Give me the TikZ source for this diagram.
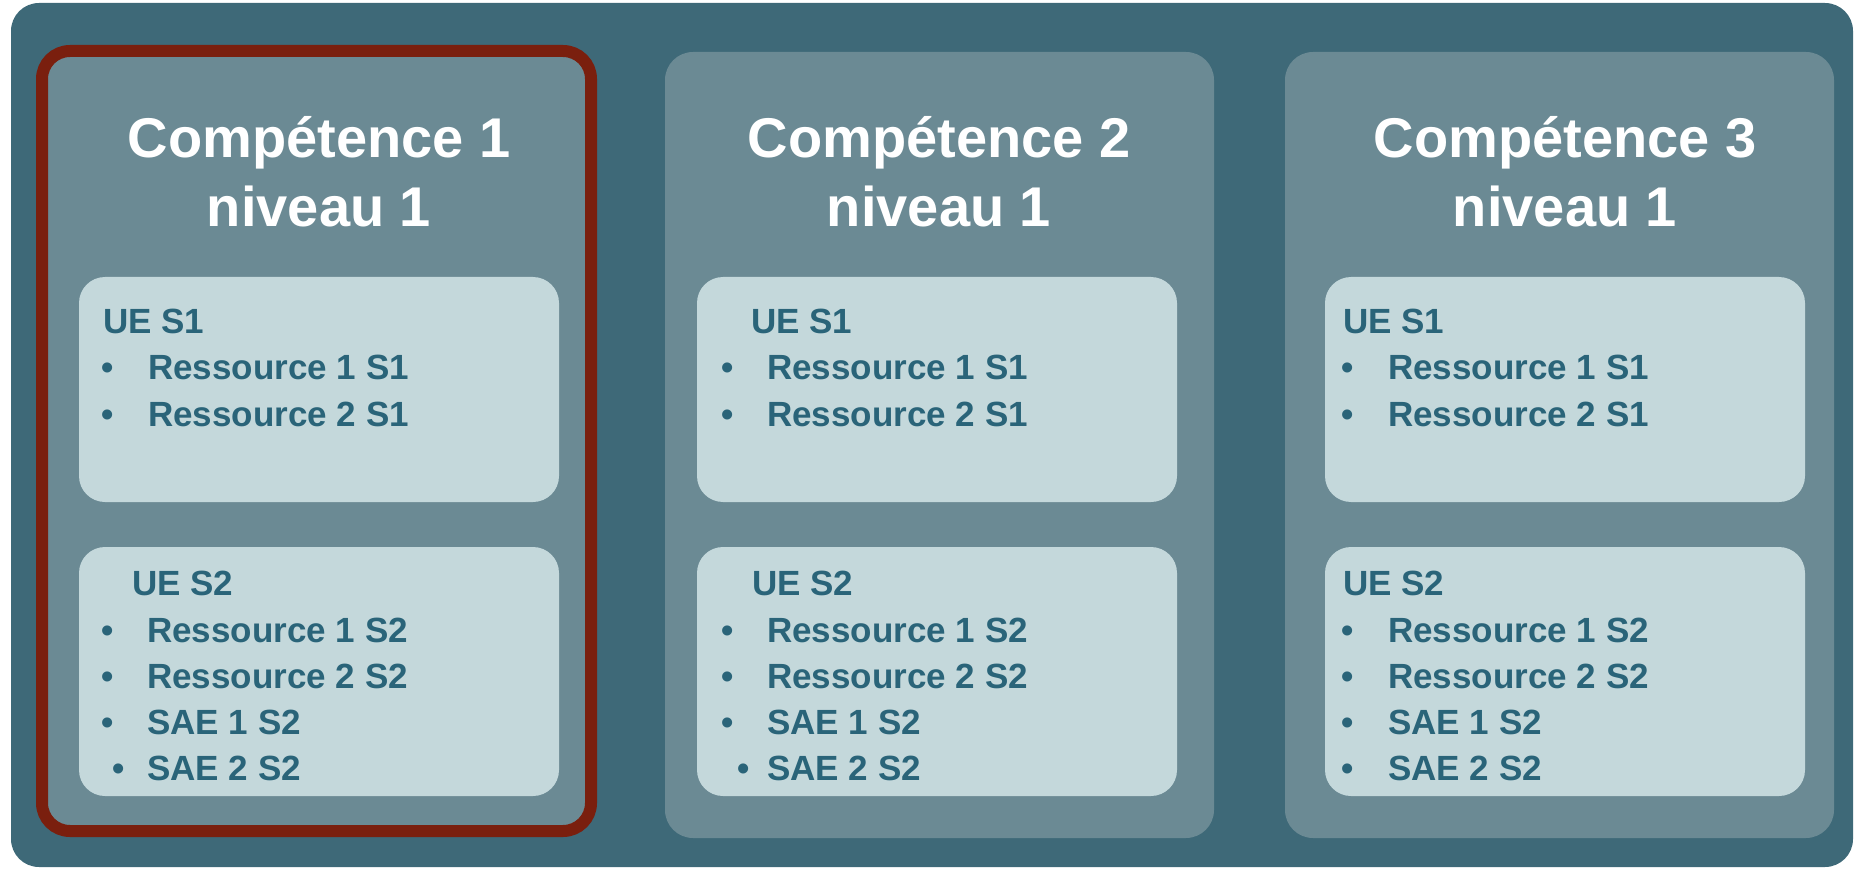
\documentclass[tikz,border=0pt]{standalone}
\usepackage{fontspec}
\setmainfont{Liberation Sans}
\definecolor{fond}{HTML}{3E6978}
\definecolor{panneau}{HTML}{6B8A94}
\definecolor{bloc}{HTML}{C4D8DB}
\definecolor{encre}{HTML}{2A6479}
\definecolor{rouge}{HTML}{7A1F0E}
\begin{document}
\begin{tikzpicture}[x=1pt, y=-1pt]
        \tikzset{
          panel/.style={fill=panneau, rounded corners=28pt, anchor=north west, inner sep=0pt,
            outer sep=0pt, minimum width=549pt, minimum height=786pt},
          ubox/.style={fill=bloc, rounded corners=26pt, anchor=north west, inner sep=0pt,
            outer sep=0pt, minimum width=480pt},
          titre/.style={text=white, font=\fontsize{56}{70}\selectfont\bfseries, align=center, anchor=base},
          ue/.style={text=encre, font=\fontsize{35}{46}\selectfont\bfseries, anchor=base west, inner sep=0pt},
          puce/.style={text=encre, font=\fontsize{35}{46}\selectfont\bfseries, anchor=base, inner sep=0pt},
        }
        \useasboundingbox (0,0) rectangle (1856,869);
        \fill [fond, rounded corners=28pt] (11,3) rectangle (1853,867);
        % 
        \node [panel, draw=rouge, line width=12pt, minimum height=780pt] (C1) at (42,51) {};
        \node [panel] (C2) at (665,52) {};
        \node [panel] (C3) at (1285,52) {};
        % 
        \node [titre] (t1) at (319,227) {Compétence 1 \\ niveau 1};
        \node [titre] (t2) at (939,227) {Compétence 2 \\ niveau 1};
        \node [titre] (t3) at (1565,227) {Compétence 3 \\ niveau 1};
        % 
        \node [ubox, minimum height=225pt] (s1a) at (79,277) {};
        \node [ubox, minimum height=249pt] (s2a) at (79,547) {};
        \node [ubox, minimum height=225pt] (s1b) at (697,277) {};
        \node [ubox, minimum height=249pt] (s2b) at (697,547) {};
        \node [ubox, minimum height=225pt] (s1c) at (1325,277) {};
        \node [ubox, minimum height=249pt] (s2c) at (1325,547) {};
        % competence 1
        \node [ue] (ue1a) at (103,333) {UE S1};
        \node [puce] (p1a) at (108,379) {•};
        \node [puce] (p2a) at (108,426) {•};
        \node [ue] (r1a) at (148,379) {Ressource 1 S1};
        \node [ue] (r2a) at (148,426) {Ressource 2 S1};
        \node [ue] (ue2a) at (132,595) {UE S2};
        \node [puce] (p3a) at (108,642) {•};
        \node [puce] (p4a) at (108,688) {•};
        \node [puce] (p5a) at (108,734) {•};
        \node [puce] (p6a) at (119,780) {•};
        \node [ue] (r3a) at (147,642) {Ressource 1 S2};
        \node [ue] (r4a) at (147,688) {Ressource 2 S2};
        \node [ue] (sae1a) at (147,734) {SAE 1 S2};
        \node [ue] (sae2a) at (147,780) {SAE 2 S2};
        % competence 2
        \node [ue] (ue1b) at (751,333) {UE S1};
        \node [puce] (p1b) at (728,379) {•};
        \node [puce] (p2b) at (728,426) {•};
        \node [ue] (r1b) at (767,379) {Ressource 1 S1};
        \node [ue] (r2b) at (767,426) {Ressource 2 S1};
        \node [ue] (ue2b) at (752,595) {UE S2};
        \node [puce] (p3b) at (728,642) {•};
        \node [puce] (p4b) at (728,688) {•};
        \node [puce] (p5b) at (728,734) {•};
        \node [puce] (p6b) at (744,780) {•};
        \node [ue] (r3b) at (767,642) {Ressource 1 S2};
        \node [ue] (r4b) at (767,688) {Ressource 2 S2};
        \node [ue] (sae1b) at (767,734) {SAE 1 S2};
        \node [ue] (sae2b) at (767,780) {SAE 2 S2};
        % competence 3
        \node [ue] (ue1c) at (1343,333) {UE S1};
        \node [puce] (p1c) at (1348,379) {•};
        \node [puce] (p2c) at (1348,426) {•};
        \node [ue] (r1c) at (1388,379) {Ressource 1 S1};
        \node [ue] (r2c) at (1388,426) {Ressource 2 S1};
        \node [ue] (ue2c) at (1343,595) {UE S2};
        \node [puce] (p3c) at (1348,642) {•};
        \node [puce] (p4c) at (1348,688) {•};
        \node [puce] (p5c) at (1348,734) {•};
        \node [puce] (p6c) at (1348,780) {•};
        \node [ue] (r3c) at (1388,642) {Ressource 1 S2};
        \node [ue] (r4c) at (1388,688) {Ressource 2 S2};
        \node [ue] (sae1c) at (1388,734) {SAE 1 S2};
        \node [ue] (sae2c) at (1388,780) {SAE 2 S2};
\end{tikzpicture}
\end{document}
